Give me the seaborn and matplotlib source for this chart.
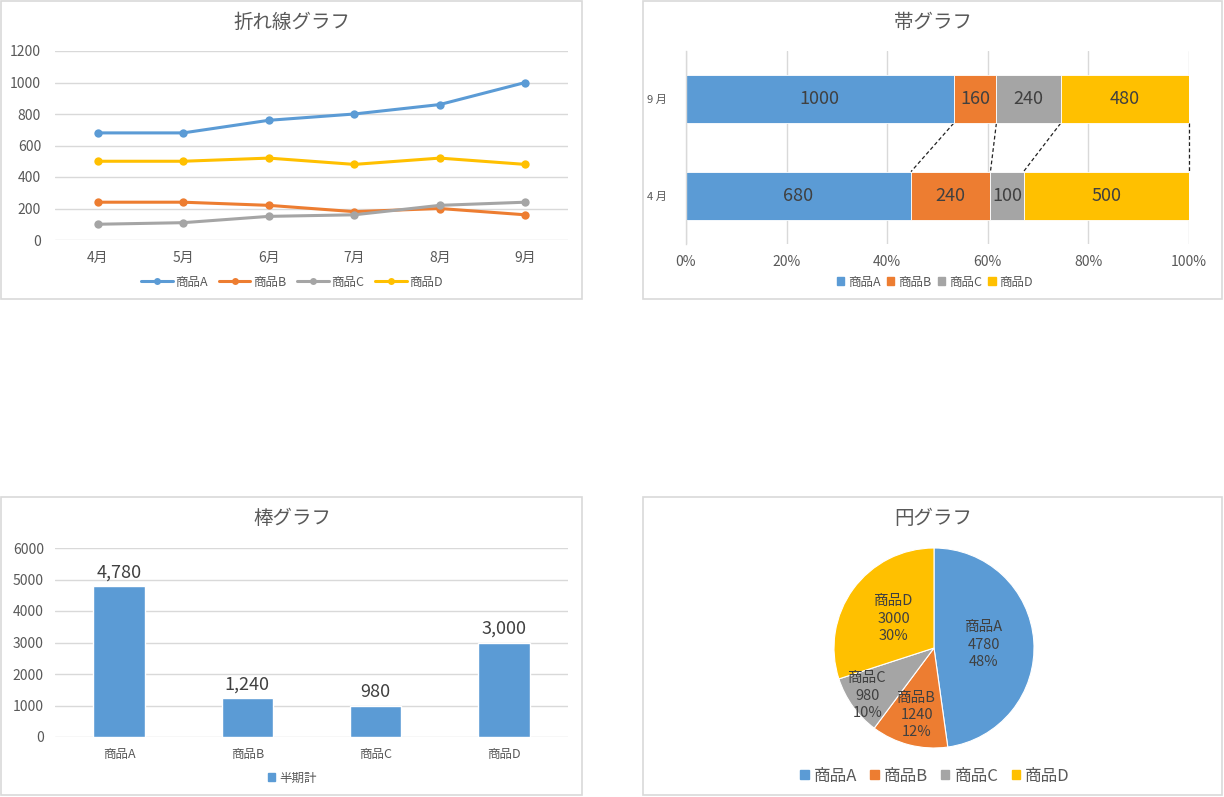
import numpy as np
import pandas as pd
import matplotlib
matplotlib.use("Agg")
import matplotlib.pyplot as plt
import seaborn as sns
from matplotlib.patches import Rectangle
from matplotlib.lines import Line2D

# data
months = ["4月", "5月", "6月", "7月", "8月", "9月"]
products = ["商品A", "商品B", "商品C", "商品D"]
sales_a = [680, 680, 760, 800, 860, 1000]
sales_b = [240, 240, 220, 180, 200, 160]
sales_c = [100, 110, 150, 160, 220, 240]
sales_d = [500, 500, 520, 480, 520, 480]
band_rows = ["4 月", "9 月"]
band_apr = [680, 240, 100, 500]
band_sep = [1000, 160, 240, 480]
half_total = [4780, 1240, 980, 3000]
line_ticks = [0, 200, 400, 600, 800, 1000, 1200]
bar_ticks = [0, 1000, 2000, 3000, 4000, 5000, 6000]
pct_ticks = [0, 20, 40, 60, 80, 100]

colors = ["#5B9BD5", "#ED7D31", "#A5A5A5", "#FFC000"]
txt = "#595959"
grid_c = "#D9D9D9"

sns.set_theme(style="white")
plt.rcParams['font.family'] = ['Noto Sans CJK JP', 'DejaVu Sans']

W, H = 1224, 797
fig = plt.figure(figsize=(W / 100, H / 100), dpi=100)


def px_axes(x0, y0, x1, y1):
    return fig.add_axes([x0 / W, 1 - y1 / H, (x1 - x0) / W, (y1 - y0) / H])


def panel(x0, y0, x1, y1):
    fig.patches.append(Rectangle((x0 / W, 1 - y1 / H), (x1 - x0) / W, (y1 - y0) / H,
                                 transform=fig.transFigure, fill=False,
                                 edgecolor="#D9D9D9", linewidth=1.2))


def fig_text(x, y, s, size, **kw):
    fig.text(x / W, 1 - y / H, s, ha="center", va="center", fontsize=size,
             color=txt, **kw)


def style_axes(ax):
    for s in ax.spines.values():
        s.set_visible(False)
    ax.tick_params(colors=txt, labelsize=10, length=0)


panel(1, 1, 582, 299)
panel(643, 1, 1222, 299)
panel(1, 497, 582, 795)
panel(643, 497, 1222, 795)

# ---- line chart ----
ax1 = px_axes(55, 51, 568, 240)
line_df = pd.DataFrame({"month": months * 4,
                        "product": np.repeat(products, 6),
                        "value": sales_a + sales_b + sales_c + sales_d})
line_df["x"] = list(range(6)) * 4
sns.lineplot(data=line_df, x="x", y="value", hue="product", palette=colors,
             marker="o", markersize=6, markeredgewidth=0, linewidth=2.2,
             legend=False, ax=ax1, clip_on=False)
ax1.set_xlim(-0.5, 5.5)
ax1.set_ylim(0, 1200)
ax1.set_yticks(line_ticks)
ax1.set_xticks(range(6))
ax1.set_xticklabels(months)
ax1.yaxis.grid(True, color=grid_c, linewidth=1)
ax1.set_axisbelow(True)
ax1.set_xlabel("")
ax1.set_ylabel("")
style_axes(ax1)
ax1.tick_params(axis="y", pad=10)
ax1.tick_params(axis="x", pad=8)
fig_text(292, 22, "折れ線グラフ", 14)
handles = [Line2D([], [], color=c, marker="o", markersize=5, linewidth=2.2,
                  markeredgewidth=0) for c in colors]
fig.legend(handles, products, loc="center", bbox_to_anchor=(292 / W, 1 - 282 / H),
           ncol=4, frameon=False, fontsize=9, labelcolor=txt, handlelength=2.5,
           handletextpad=0.2, columnspacing=0.9)

# ---- 100% stacked band chart ----
ax2 = px_axes(686, 51, 1189, 244)
rows = [band_apr, band_sep]
left = np.zeros(2)
bounds = []
for i, p in enumerate(products):
    vals = np.array([r[i] for r in rows], dtype=float)
    tot = np.array([sum(r) for r in rows], dtype=float)
    w = vals / tot * 100
    ax2.barh([0, 1], w, left=left, height=0.5, color=colors[i],
             edgecolor="white", linewidth=0.6, zorder=2)
    for j in range(2):
        ax2.text(left[j] + w[j] / 2, j, str(int(vals[j])), ha="center",
                 va="center", fontsize=13, color="#404040", zorder=3)
    left = left + w
    bounds.append(left.copy())
for b in bounds:
    ax2.plot([b[1], b[0]], [0.75, 0.25], color="#222222", linestyle=(0, (3, 2)),
             linewidth=0.9, zorder=1, clip_on=False)
ax2.set_xlim(0, 100)
ax2.set_ylim(-0.5, 1.5)
ax2.set_xticks(pct_ticks)
ax2.set_xticklabels([f"{t}%" for t in pct_ticks])
ax2.set_yticks([0, 1])
ax2.set_yticklabels(band_rows)
ax2.xaxis.grid(True, color=grid_c, linewidth=1)
ax2.set_axisbelow(True)
style_axes(ax2)
ax2.spines["left"].set_visible(True)
ax2.spines["left"].set_color("#D9D9D9")
ax2.spines["left"].set_linewidth(1.0)
ax2.tick_params(axis="y", labelsize=8, pad=14)
ax2.tick_params(axis="x", pad=8, labelsize=10)
ax2.set_yticks([-0.5, 0.5, 1.5], minor=True)
ax2.tick_params(axis="y", which="minor", length=4, width=1.0, color="#D9D9D9",
                direction="out")
fig_text(933, 22, "帯グラフ", 14)
handles = [Rectangle((0, 0), 1, 1, color=c) for c in colors]
fig.legend(handles, products, loc="center", bbox_to_anchor=(935 / W, 1 - 282 / H),
           ncol=4, frameon=False, fontsize=9, labelcolor=txt, handlelength=0.6,
           handleheight=0.6, handletextpad=0.3, columnspacing=0.5)

# ---- bar chart ----
ax3 = px_axes(55, 548, 568, 737)
bar_df = pd.DataFrame({"product": products, "total": half_total})
sns.barplot(data=bar_df, x="product", y="total", color=colors[0], saturation=1,
            width=0.4, ax=ax3, zorder=2)
for i, v in enumerate(half_total):
    ax3.text(i, v + 150, f"{v:,}", ha="center", va="bottom", fontsize=13,
             color="#404040")
ax3.set_xlim(-0.5, 3.5)
ax3.set_ylim(0, 6000)
ax3.set_yticks(bar_ticks)
ax3.yaxis.grid(True, color=grid_c, linewidth=1)
ax3.set_axisbelow(True)
ax3.set_xlabel("")
ax3.set_ylabel("")
style_axes(ax3)
ax3.tick_params(axis="y", pad=8)
ax3.tick_params(axis="x", pad=8, labelsize=9)
fig_text(292, 519, "棒グラフ", 14)
fig.legend([Rectangle((0, 0), 1, 1, color=colors[0])], ["半期計"], loc="center",
           bbox_to_anchor=(292 / W, 1 - 778 / H), frameon=False, fontsize=9,
           labelcolor=txt, handlelength=0.6, handleheight=0.6, handletextpad=0.3)

# ---- pie chart ----
ax4 = px_axes(834, 548, 1034, 748)
total = sum(half_total)
labels = [f"{p}\n{v}\n{round(v / total * 100)}%" for p, v in zip(products, half_total)]
wedges, texts = ax4.pie(half_total, colors=colors, startangle=90, counterclock=False,
                        radius=1, wedgeprops=dict(edgecolor="white", linewidth=0.8))
label_r = [0.5, 0.69, 0.82, 0.5]
for w, lab, r in zip(wedges, labels, label_r):
    ang = np.deg2rad((w.theta1 + w.theta2) / 2)
    ax4.text(r * np.cos(ang), r * np.sin(ang), lab, ha="center", va="center",
             fontsize=10.5, color="#404040", linespacing=1.3)
ax4.set_xlim(-1, 1)
ax4.set_ylim(-1, 1)
ax4.set_aspect("equal")
ax4.axis("off")
fig_text(933, 519, "円グラフ", 14)
fig.legend(handles, products, loc="center", bbox_to_anchor=(935 / W, 1 - 776 / H),
           ncol=4, frameon=False, fontsize=12, labelcolor=txt, handlelength=0.5,
           handleheight=0.5, handletextpad=0.3, columnspacing=0.8)

fig.savefig("out.png", dpi=100, facecolor="white")
